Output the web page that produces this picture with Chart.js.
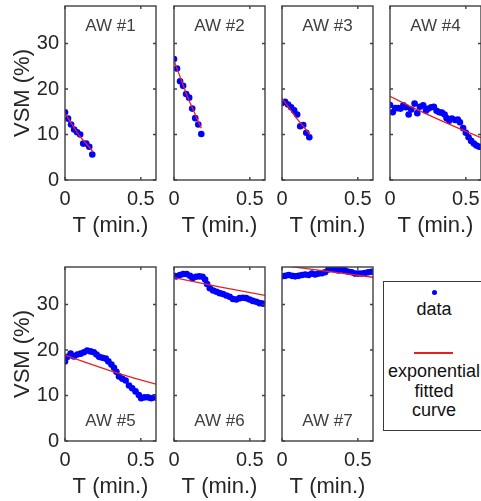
<!DOCTYPE html>
<html>
<head>
<meta charset="utf-8">
<title>VSM per AW</title>
<script src="https://cdn.jsdelivr.net/npm/chart.js@4.4.0/dist/chart.umd.min.js"></script>
<style>
  html, body { margin: 0; padding: 0; width: 481px; height: 501px; overflow: hidden; background: #fff; }
  canvas { position: absolute; }
  #legend { position: absolute; left: 383px; top: 281px; width: 104px; height: 148px;
    border: 1px solid #3a3a3a; font-family: "Liberation Sans", Arial, sans-serif; font-size: 18px; color: #111; }
  #legend .dot { position: absolute; left: 47.5px; top: 7.5px; width: 5px; height: 5px; border-radius: 50%; background: #0000ff; }
  #legend .line { position: absolute; left: 30px; top: 70px; width: 39px; height: 2px; background: #e82020; }
  #legend .txt { position: absolute; left: 0; width: 100px; text-align: center; line-height: 19.5px; }
</style>
</head>
<body>
<canvas id="aw1"></canvas>
<canvas id="aw2"></canvas>
<canvas id="aw3"></canvas>
<canvas id="aw4"></canvas>
<canvas id="aw5"></canvas>
<canvas id="aw6"></canvas>
<canvas id="aw7"></canvas>
<div id="legend">
  <div class="dot"></div>
  <div class="txt" style="top:18px">data</div>
  <div class="line"></div>
  <div class="txt" style="top:80px">exponential<br>fitted<br>curve</div>
</div>
<script>
// time (min.) and VSM (%) readings for each AW, plus the exponential fit
const t1 = [0, 0.02, 0.04, 0.06, 0.08, 0.10, 0.12, 0.14, 0.16, 0.18];
const vsm1 = [14.9, 13.5, 12.2, 11.1, 10.5, 10.0, 8.0, 8.0, 7.3, 5.6];
const fitT1 = [0, 0.09, 0.185];
const fitV1 = [14.7, 9.9, 6.2];

const t2 = [0, 0.02, 0.04, 0.06, 0.08, 0.10, 0.12, 0.14, 0.16, 0.18];
const vsm2 = [26.6, 24.5, 21.7, 20.7, 18.9, 18.1, 15.7, 13.6, 12.2, 10.1];
const fitT2 = [0, 0.09, 0.18];
const fitV2 = [26.3, 18.2, 11.4];

const t3 = [0, 0.02, 0.04, 0.06, 0.08, 0.10, 0.12, 0.14, 0.16, 0.18];
const vsm3 = [16.9, 17.2, 16.6, 16.0, 15.3, 14.4, 11.8, 12.1, 10.4, 9.4];
const fitT3 = [0, 0.09, 0.185];
const fitV3 = [18.0, 13.8, 10.0];

const t4 = [0, 0.018, 0.035, 0.053, 0.070, 0.088, 0.105, 0.123, 0.140, 0.162, 0.180, 0.197,
  0.219, 0.237, 0.254, 0.272, 0.289, 0.307, 0.325, 0.342, 0.360, 0.373, 0.390, 0.408,
  0.430, 0.447, 0.461, 0.482, 0.500, 0.518, 0.535, 0.553, 0.570, 0.588];
const vsm4 = [16.5, 14.9, 15.8, 15.8, 15.7, 16.4, 16.0, 14.4, 15.5, 16.8, 14.7, 16.1,
  16.4, 15.2, 15.7, 16.0, 16.1, 15.2, 14.9, 14.8, 14.4, 13.6, 13.0, 13.5,
  13.2, 13.3, 12.7, 11.4, 10.4, 9.4, 8.6, 8.0, 7.6, 7.3];
const fitT4 = [0, 0.15, 0.3, 0.45, 0.6];
const fitV4 = [18.4, 15.9, 13.6, 11.4, 9.3];

const t5 = [0, 0.017, 0.037, 0.059, 0.081, 0.103, 0.125, 0.146, 0.168, 0.190, 0.208, 0.225,
  0.247, 0.269, 0.286, 0.306, 0.323, 0.339, 0.356, 0.378, 0.400, 0.422, 0.443, 0.465,
  0.487, 0.502, 0.524, 0.546, 0.568, 0.590];
const vsm5 = [17.5, 18.5, 19.2, 18.6, 19.0, 19.2, 19.5, 19.9, 19.7, 19.5, 19.0, 18.5,
  18.3, 18.1, 17.5, 16.8, 16.1, 15.2, 14.2, 13.7, 13.3, 12.2, 11.6, 10.9,
  10.1, 9.4, 9.6, 9.6, 9.4, 9.6];
const fitT5 = [0, 0.15, 0.3, 0.45, 0.6];
const fitV5 = [18.9, 17.1, 15.4, 13.9, 12.5];

const t6 = [0, 0.017, 0.039, 0.061, 0.083, 0.105, 0.122, 0.144, 0.166, 0.188, 0.205, 0.218,
  0.236, 0.258, 0.280, 0.301, 0.323, 0.345, 0.367, 0.389, 0.411, 0.433, 0.454, 0.476,
  0.498, 0.520, 0.542, 0.564, 0.585];
const vsm6 = [36.3, 36.2, 36.5, 36.7, 36.7, 36.3, 35.8, 36.1, 36.2, 36.1, 35.5, 34.5,
  33.6, 33.1, 32.8, 32.5, 32.3, 32.0, 31.7, 31.2, 31.1, 31.4, 31.5, 31.4,
  31.1, 30.8, 30.6, 30.3, 30.2];
const fitT6 = [0, 0.3, 0.6];
const fitV6 = [35.9, 33.9, 32.0];

const t7 = [0, 0.022, 0.044, 0.066, 0.087, 0.109, 0.131, 0.153, 0.175, 0.197, 0.218, 0.240,
  0.262, 0.284, 0.306, 0.328, 0.350, 0.371, 0.393, 0.415, 0.437, 0.459, 0.481, 0.502,
  0.524, 0.546, 0.568, 0.590];
const vsm7 = [36.2, 36.3, 36.5, 36.3, 36.2, 36.3, 36.5, 36.6, 36.5, 36.8, 36.6, 36.8,
  36.9, 37.1, 37.7, 37.8, 37.7, 37.5, 37.7, 37.5, 37.2, 37.1, 36.8, 36.8,
  36.8, 36.9, 37.1, 37.2];
const fitT7 = [0, 0.3, 0.6];
const fitV7 = [38.6, 37.3, 36.0];

const awNames = ['AW #1', 'AW #2', 'AW #3', 'AW #4', 'AW #5', 'AW #6', 'AW #7'];
const xTicks = [0, 0.5];
const yTicks = [0, 10, 20, 30];
const xRange = [0, 0.6];
const yRange = [0, 38.25];

const series = [
  [t1, vsm1, fitT1, fitV1], [t2, vsm2, fitT2, fitV2], [t3, vsm3, fitT3, fitV3],
  [t4, vsm4, fitT4, fitV4], [t5, vsm5, fitT5, fitV5], [t6, vsm6, fitT6, fitV6],
  [t7, vsm7, fitT7, fitV7]
];

// layout of the axes boxes on the page
const BOX_W = 91, BOX_H = 174;
const PAD_L = 64, PAD_T = 6, PAD_R = 8, PAD_B = 64;
const boxLeft = [65, 174, 282, 390, 65, 174, 282];
const boxTop = [6, 6, 6, 6, 267, 267, 267];

Chart.defaults.font.family = '"Liberation Sans", Arial, sans-serif';
Chart.defaults.color = '#262626';

// box around the plot area with inward tick marks, and the AW tag inside
const axesBox = {
  id: 'axesBox',
  afterDatasetsDraw(chart, args, opts) {
    const {ctx, chartArea: a, scales} = chart;
    ctx.save();
    ctx.strokeStyle = '#404040';
    ctx.lineWidth = 1.4;
    ctx.strokeRect(a.left, a.top, a.right - a.left, a.bottom - a.top);
    ctx.beginPath();
    scales.x.ticks.forEach(tk => {
      const px = scales.x.getPixelForValue(tk.value);
      ctx.moveTo(px, a.bottom); ctx.lineTo(px, a.bottom - 3);
      ctx.moveTo(px, a.top); ctx.lineTo(px, a.top + 3);
    });
    scales.y.ticks.forEach(tk => {
      const py = scales.y.getPixelForValue(tk.value);
      ctx.moveTo(a.left, py); ctx.lineTo(a.left + 3, py);
      ctx.moveTo(a.right, py); ctx.lineTo(a.right - 3, py);
    });
    ctx.stroke();
    ctx.fillStyle = '#404040';
    ctx.font = '17px "Liberation Sans", Arial, sans-serif';
    ctx.textAlign = 'center';
    ctx.textBaseline = 'middle';
    const ty = opts.atTop ? a.top + 20.5 : a.bottom - 19.7;
    ctx.fillText(opts.tag, (a.left + a.right) / 2, ty);
    ctx.restore();
  }
};

function makePanel(i) {
  const cv = document.getElementById('aw' + (i + 1));
  const w = PAD_L + BOX_W + PAD_R, h = PAD_T + BOX_H + PAD_B;
  cv.width = w; cv.height = h;
  cv.style.left = (boxLeft[i] - PAD_L) + 'px';
  cv.style.top = (boxTop[i] - PAD_T) + 'px';
  const firstCol = i === 0 || i === 4;
  const [ts, vs, ft, fv] = series[i];

  new Chart(cv, {
    type: 'scatter',
    data: {
      datasets: [
        {
          label: 'exponential fitted curve',
          data: ft.map((x, k) => ({x, y: fv[k]})),
          showLine: true,
          borderColor: '#e82020',
          borderWidth: 1.3,
          pointRadius: 0,
          clip: 0,
          order: 0
        },
        {
          label: 'data',
          data: ts.map((x, k) => ({x, y: vs[k]})),
          showLine: false,
          pointRadius: 3.3,
          pointBackgroundColor: '#0000ff',
          pointBorderWidth: 0,
          order: 1
        }
      ]
    },
    options: {
      responsive: false,
      animation: false,
      devicePixelRatio: 1,
      layout: {padding: {top: PAD_T, right: PAD_R, left: 0, bottom: 0}},
      plugins: {
        legend: {display: false},
        tooltip: {enabled: false},
        axesBox: {tag: awNames[i], atTop: i < 4}
      },
      scales: {
        x: {
          type: 'linear',
          min: xRange[0], max: xRange[1],
          afterBuildTicks: s => { s.ticks = xTicks.map(v => ({value: v})); },
          afterFit: s => { s.height = PAD_B; s.paddingLeft = 0; s.paddingRight = 0; },
          grid: {display: false, drawTicks: false},
          border: {display: false},
          ticks: {padding: 7, font: {size: 20}, color: '#262626'},
          title: {display: true, text: 'T (min.)', font: {size: 22}, color: '#262626',
                  padding: {top: 0, bottom: 5}}
        },
        y: {
          type: 'linear',
          min: yRange[0], max: yRange[1],
          afterBuildTicks: s => { s.ticks = yTicks.map(v => ({value: v})); },
          afterFit: s => { s.width = PAD_L; s.paddingTop = 0; s.paddingBottom = 0; },
          grid: {display: false, drawTicks: false},
          border: {display: false},
          ticks: {display: firstCol, padding: 6, font: {size: 20}, color: '#262626'},
          title: {display: firstCol, text: 'VSM (%)', font: {size: 22}, color: '#262626',
                  padding: {top: 9, bottom: 0}}
        }
      }
    },
    plugins: [axesBox]
  });
}

for (let i = 0; i < 7; i++) makePanel(i);
</script>
</body>
</html>
